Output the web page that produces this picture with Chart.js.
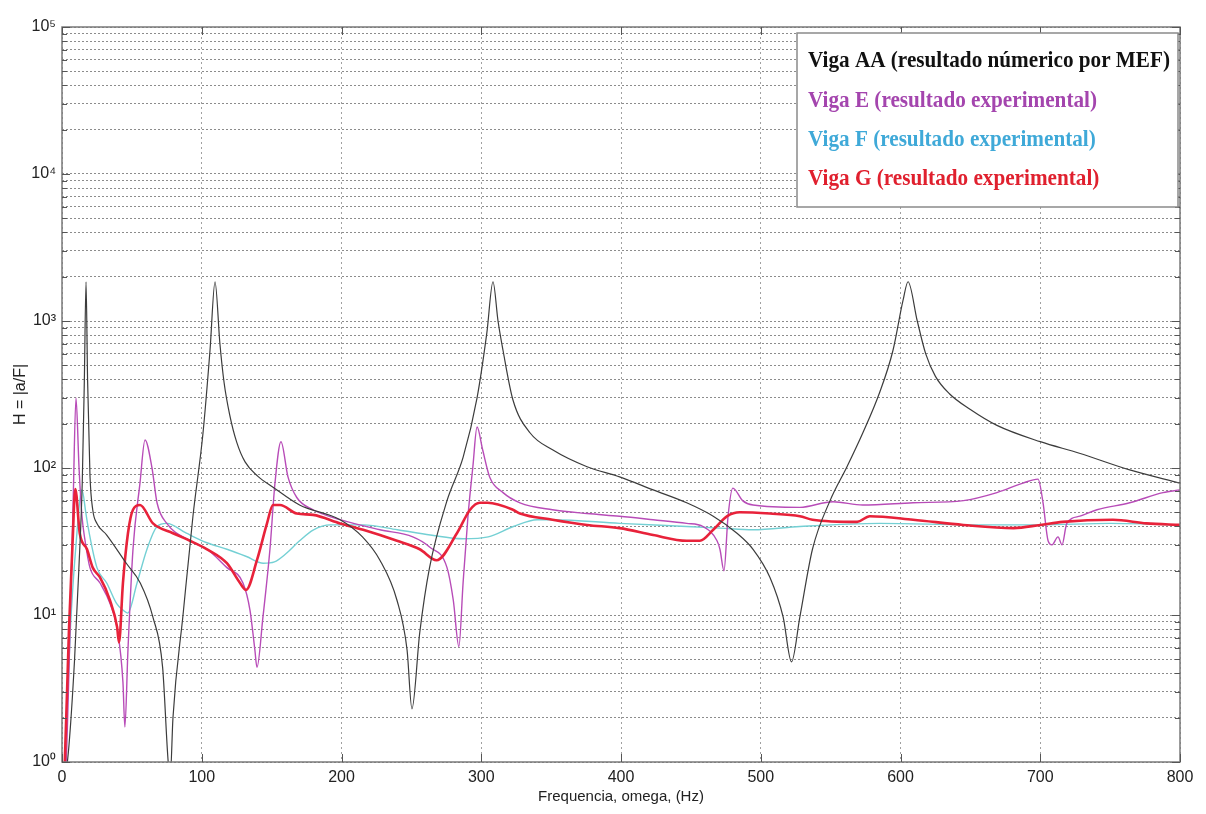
<!DOCTYPE html>
<html>
<head>
<meta charset="utf-8">
<script src="https://cdn.jsdelivr.net/npm/chart.js@4.4.1/dist/chart.umd.min.js"></script>
<style>
  html, body { margin: 0; background: #fff; }
  #wrap { width: 1206px; height: 814px; }
</style>
</head>
<body>
<div id="wrap"><canvas id="c"></canvas></div>
<script>
// series labels (legend text)
const seriesNames = [
  'Viga AA (resultado númerico por MEF)',
  'Viga E (resultado experimental)',
  'Viga F (resultado experimental)',
  'Viga G (resultado experimental)'
];

// Viga AA - numerical FRF
const aaFreq = [0, 5, 9, 12, 14.5, 16, 17.2, 18.3, 20, 22, 25, 32, 46, 56, 65, 72, 76, 77.5, 79.4, 86.6,
  93.7, 100.9, 105.9, 109.5, 113, 116, 120, 125, 131, 140, 151, 170, 199, 215, 227.5, 239.7, 246.9, 250.4,
  256, 263, 275.5, 287, 297, 304, 308.4, 312, 315.6, 322.7, 335, 351, 375.7, 399, 423, 447, 466, 483,
  494.5, 506.6, 516, 522, 528, 537, 549.6, 561.7, 573, 585, 594.6, 601.8, 605.4, 612, 618, 625, 635, 650,
  669, 700, 728, 764, 800];
const aaH = [0.5, 1.3, 5, 20, 80, 400, 1850, 400, 90, 52, 42, 35, 22.5, 16.5, 9.7, 4.4, 1.0, 0.8, 2, 10,
  47, 173, 630, 1850, 700, 380, 230, 150, 110, 88, 74, 56, 44.5, 34, 23.6, 12.6, 5.8, 2.3,
  7.6, 21, 60, 118, 300, 830, 1850, 1000, 630, 290, 173, 133, 102, 87, 71, 58, 47, 36,
  28, 18, 9.7, 4.8, 9.7, 28, 60, 102, 173, 325, 630, 1380, 1850, 1000, 600, 420, 320, 250,
  195, 151, 126, 97, 79];

// Viga E - experimental
const eFreq = [0, 3, 6, 8, 10, 12.2, 14.3, 16.5, 20, 27.2, 34.3, 40, 43.6, 45, 47.2, 50.8, 55.8, 59.4,
  64.4, 68, 75, 91.6, 103.8, 118, 129.5, 134.5, 138, 139.5, 143.8, 148.8, 152.4, 156.7, 161.7, 168,
  179.6, 199, 227.5, 251, 263, 275.5, 280, 284, 287, 290.5, 294, 297, 301, 306, 315.6, 327.7, 351,
  375.7, 399, 423, 447, 458.7, 468.7, 470.8, 473.7, 476.6, 480, 487, 494.5, 528, 551.7, 573, 609, 645,
  669, 687.7, 698.4, 702, 705.6, 708.4, 712.7, 715.6, 719, 728.4, 740.6, 764, 787.8, 800];
const eH = [0.5, 1, 10, 60, 300, 100, 47, 32, 21, 16.5, 12, 7.6, 3.5, 1.73, 5.8, 28, 79, 155,
  100, 58, 42, 32, 28, 21, 16.5, 10.8, 5.8, 4.4, 9.7, 28, 79, 151, 87, 63,
  52, 44.5, 38, 34, 29, 21, 12.6, 6.1, 16.5, 47, 102, 190, 133, 87, 68, 58, 52,
  49, 47, 44.5, 42, 40, 32, 28, 20, 47, 73, 60, 56, 54, 59, 56, 58, 60,
  68, 79, 84, 58, 32, 30, 34, 30, 42, 47, 52, 58, 68, 71];

// Viga F - experimental
const fFreq = [0, 2, 6, 10, 14.3, 17, 18.6, 25, 32, 39, 43.6, 47, 53.7, 60.8, 68, 75, 89, 103.7, 118,
  132, 144, 152, 160, 170, 180, 192, 215.5, 240, 263.5, 287, 305, 323, 340, 351, 399, 447, 471, 494.5,
  528, 585, 657, 700, 750, 800];
const fH = [0.5, 1, 8, 30, 71, 50, 40, 21, 16.5, 12, 10.8, 10.3, 16.5, 28, 40, 42, 36, 31, 28,
  25, 22.5, 23, 26, 32, 38, 41, 41, 38, 35, 33, 34, 40, 44.5, 44.5, 42, 40, 39, 38,
  40, 42, 41, 41, 42, 41];

// Viga G - experimental
const gFreq = [0, 2, 5, 7.5, 9.5, 12.7, 17.9, 22, 27.2, 34.3, 39.4, 40.8, 43.6, 47.2, 50.8, 55.8, 65.1,
  79.4, 91.6, 103.8, 118, 127.4, 131.7, 139.5, 146.7, 151, 156, 168, 179.6, 199, 215.5, 239.7, 256,
  268, 282.6, 292, 299, 304.6, 322.7, 327.7, 351, 375.7, 399, 423, 447, 456.5, 466, 476, 485, 506.6,
  528, 537, 569, 578, 609, 645, 681, 700, 716, 752, 776, 800];
const gH = [0.5, 1, 8, 30, 72, 36, 28, 21, 18, 12.6, 8.3, 6.5, 16.5, 36, 52, 56, 42,
  36, 32, 28, 22.5, 16.5, 14.8, 23.6, 42, 56, 56, 49, 48, 42, 38, 32, 28,
  23.6, 36, 52, 58, 58, 52, 49, 44.5, 41, 39, 35, 32, 32, 38, 47, 50, 49,
  47, 44.5, 43, 47, 44.5, 41, 39, 41, 43, 44.5, 42, 41];

// axis ticks
const xTickValues = [0, 100, 200, 300, 400, 500, 600, 700, 800];
const yDecades = [0, 1, 2, 3, 4, 5];
const yMinorSteps = [1, 2, 3, 4, 5, 6, 7, 8, 9];
const supDigits = ['⁰', '¹', '²', '³', '⁴', '⁵'];

const lineColors = ['#3c3c3c', '#b84cb8', '#74d0d4', '#e8223a'];
const textColors = ['#111111', '#a445ae', '#3fa9d8', '#e0202e'];

const yTickValues = [];
yDecades.forEach(d => {
  yMinorSteps.forEach(m => {
    const v = m * Math.pow(10, d);
    if (v <= 1e5) yTickValues.push(v);
  });
});

function pts(xs, ys) {
  return xs.map((x, i) => ({ x: x, y: ys[i] }));
}

const frame = {
  id: 'frame',
  afterDraw(chart) {
    const ctx = chart.ctx;
    const a = chart.chartArea;
    const xs = chart.scales.x, ys = chart.scales.y;
    ctx.save();
    ctx.strokeStyle = '#7a7a7a';
    ctx.lineWidth = 1.5;
    ctx.strokeRect(a.left, a.top, a.right - a.left, a.bottom - a.top);

    // inner tick marks, matlab style
    ctx.lineWidth = 1;
    ctx.strokeStyle = '#555';
    ctx.beginPath();
    yTickValues.forEach(v => {
      const py = Math.round(ys.getPixelForValue(v)) + 0.5;
      const len = (Math.log10(v) % 1 === 0) ? 8 : 5;
      ctx.moveTo(a.left, py); ctx.lineTo(a.left + len, py);
      ctx.moveTo(a.right, py); ctx.lineTo(a.right - len, py);
    });
    xTickValues.forEach(v => {
      const px = Math.round(xs.getPixelForValue(v)) + 0.5;
      ctx.moveTo(px, a.bottom); ctx.lineTo(px, a.bottom - 8);
      ctx.moveTo(px, a.top); ctx.lineTo(px, a.top + 8);
    });
    ctx.stroke();

    // legend box
    const bx = 797, by = 33, bw = 381, bh = 174;
    ctx.fillStyle = '#ffffff';
    ctx.fillRect(bx, by, bw, bh);
    ctx.strokeStyle = '#8a8a8a';
    ctx.lineWidth = 1.5;
    ctx.strokeRect(bx, by, bw, bh);

    ctx.font = 'bold 24px "Liberation Serif", "Times New Roman", serif';
    ctx.textBaseline = 'middle';
    ctx.textAlign = 'left';
    const sx = 362 / ctx.measureText(seriesNames[0]).width;
    const rows = [61, 101, 140, 179];
    seriesNames.forEach((name, i) => {
      ctx.save();
      ctx.translate(808, rows[i]);
      ctx.scale(sx, 1);
      ctx.fillStyle = textColors[i];
      ctx.fillText(name, 0, 0);
      ctx.restore();
    });
    ctx.restore();
  }
};

new Chart(document.getElementById('c'), {
  type: 'line',
  data: {
    datasets: [
      { label: seriesNames[0], data: pts(aaFreq, aaH), borderColor: lineColors[0], borderWidth: 1.2 },
      { label: seriesNames[3], data: pts(gFreq, gH), borderColor: lineColors[3], borderWidth: 2.6 },
      { label: seriesNames[1], data: pts(eFreq, eH), borderColor: lineColors[1], borderWidth: 1.4 },
      { label: seriesNames[2], data: pts(fFreq, fH), borderColor: lineColors[2], borderWidth: 1.4 }
    ]
  },
  options: {
    responsive: true,
    maintainAspectRatio: false,
    animation: false,
    layout: { padding: { left: 0, right: 26, top: 27, bottom: 0 } },
    elements: {
      point: { radius: 0 },
      line: { cubicInterpolationMode: 'monotone', fill: false }
    },
    plugins: { legend: { display: false }, tooltip: { enabled: false } },
    scales: {
      x: {
        type: 'linear',
        min: 0,
        max: 800,
        afterBuildTicks: (s) => { s.ticks = xTickValues.map(v => ({ value: v })); },
        afterFit: (s) => { s.height = 52; },
        border: { display: false, dash: [2, 3] },
        grid: { color: '#a0a0a0', lineWidth: 1, drawTicks: false },
        ticks: {
          padding: 6,
          color: '#222',
          font: { family: '"Liberation Sans", Arial, sans-serif', size: 16 },
          maxRotation: 0,
          autoSkip: false
        },
        title: {
          display: true,
          text: 'Frequencia, omega, (Hz)',
          color: '#222',
          font: { family: '"Liberation Sans", Arial, sans-serif', size: 15 },
          padding: { top: 0, bottom: 8 }
        }
      },
      y: {
        type: 'logarithmic',
        min: 1,
        max: 100000,
        afterBuildTicks: (s) => { s.ticks = yTickValues.map(v => ({ value: v })); },
        afterFit: (s) => { s.width = 62; },
        border: { display: false, dash: [2, 2] },
        grid: { color: '#8c8c8c', lineWidth: 1, drawTicks: false },
        ticks: {
          padding: 6,
          color: '#222',
          autoSkip: false,
          font: { family: '"Liberation Sans", Arial, sans-serif', size: 16 },
          callback: (v) => {
            const l = Math.log10(v);
            const r = Math.round(l);
            return Math.abs(l - r) < 1e-9 ? '10' + supDigits[r] : '';
          }
        },
        title: {
          display: true,
          text: 'H = |a/F|',
          color: '#222',
          font: { family: '"Liberation Sans", Arial, sans-serif', size: 16 },
          padding: { top: 11, bottom: 0 }
        }
      }
    }
  },
  plugins: [frame]
});
</script>
</body>
</html>
